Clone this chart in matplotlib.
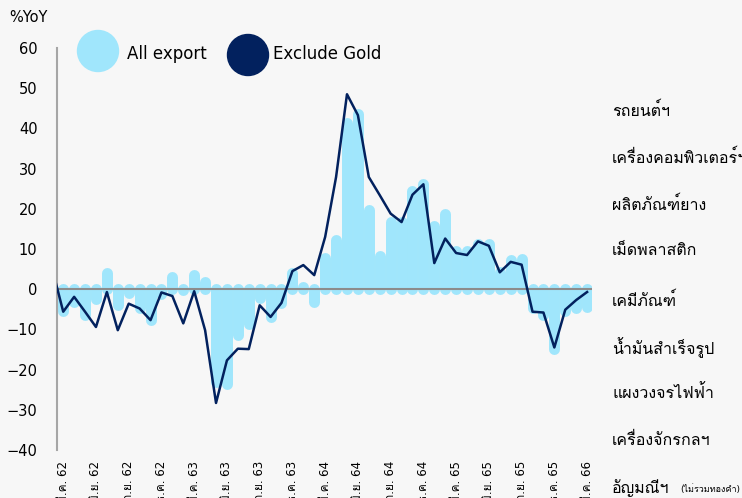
import numpy as np
import matplotlib
matplotlib.use("Agg")
import matplotlib.pyplot as plt
from matplotlib import font_manager
from matplotlib.ft2font import FT2Font
from matplotlib.patches import Ellipse

# monthly %YoY, Feb 2562 .. Mar 2566
all_export = [4.5, -5.5, -3.2, -6.5, -2.5, 4.0, -4.0, -1.0, -4.8, -7.7,
              -1.1, 3.1, -0.3, 3.5, 1.7, -23.0, -23.5, -11.5, -8.6, -2.3,
              -7.0, -3.5, 4.0, 0.5, -3.2, 7.7, 12.2, 41.3, 43.5, 19.7,
              8.3, 16.8, 16.8, 24.4, 26.1, 15.7, 18.8, 9.5, 9.5, 11.2,
              11.2, 4.3, 7.3, 7.5, -4.8, -6.5, -14.8, -5.3, -4.8, -4.4]
exclude_gold = [5.0, -5.6, -1.9, -5.6, -9.4, -0.7, -10.2, -3.6, -4.8, -7.7,
                -0.8, -1.7, -8.5, -0.5, -10.2, -28.3, -17.7, -14.8, -14.9, -4.0,
                -6.9, -3.4, 4.5, 6.0, 3.5, 13.0, 27.9, 48.5, 43.3, 27.9,
                23.4, 18.8, 16.7, 23.5, 26.1, 6.5, 12.6, 9.0, 8.5, 11.9,
                10.8, 4.2, 6.8, 6.1, -5.6, -5.8, -14.5, -5.1, -2.7, -0.7]
tick_idx = [1, 4, 7, 10, 13, 16, 19, 22, 25, 28, 31, 34, 37, 40, 43, 46, 49]
tick_labels = ["มี.ค. 62", "มิ.ย. 62", "ก.ย. 62", "ธ.ค. 62",
               "มี.ค. 63", "มิ.ย. 63", "ก.ย. 63", "ธ.ค. 63",
               "มี.ค. 64", "มิ.ย. 64", "ก.ย. 64", "ธ.ค. 64",
               "มี.ค. 65", "มิ.ย. 65", "ก.ย. 65", "ธ.ค. 65",
               "มี.ค. 66"]
side_labels = ["รถยนต์ฯ", "เครื่องคอมพิวเตอร์ฯ", "ผลิตภัณฑ์ยาง", "เม็ดพลาสติก",
               "เคมีภัณฑ์", "น้ำมันสำเร็จรูป", "แผงวงจรไฟฟ้า", "เครื่องจักรกลฯ",
               "อัญมณีฯ"]


def thai_family():
    # find any installed font that has Thai glyphs
    for f in font_manager.fontManager.ttflist:
        try:
            if ord("ก") in FT2Font(f.fname).get_charmap():
                return f.name
        except Exception:
            pass
    return None


th = thai_family()
fams = ["DejaVu Sans"] + ([th] if th else [])
plt.rcParams["font.family"] = fams

BLUE = "#a0e6fc"
NAVY = "#02215e"
BG = "#f7f7f7"

fig = plt.figure(figsize=(7.42, 4.98), dpi=100, facecolor=BG)
ax = fig.add_axes([57 / 742, 48 / 498, 535 / 742, 402 / 498], facecolor=BG)

x = np.arange(len(all_export))
ax.vlines(x, 0, all_export, colors=BLUE, linewidth=7.9, capstyle="round", zorder=1)
ax.axhline(0, color="#8c8c8c", linewidth=1.5, zorder=2)
ax.plot(x, exclude_gold, color=NAVY, linewidth=1.8, zorder=3)

ax.set_xlim(0.43, 49.45)
ax.set_ylim(-40, 60)
ax.set_yticks(np.arange(-40, 61, 10))
ax.set_xticks(tick_idx)
ax.set_xticklabels(tick_labels, rotation=90, fontsize=8.5)
ax.tick_params(axis="both", length=0, labelsize=10.5)
ax.tick_params(axis="x", pad=8, labelsize=8.5)
ax.tick_params(axis="y", pad=14)
for s in ["top", "right", "bottom"]:
    ax.spines[s].set_visible(False)
ax.spines["left"].set_color("#a6a6a6")
ax.spines["left"].set_linewidth(1.5)

fig.text(28 / 742, 1 - 18 / 498, "%YoY", fontsize=10.5, ha="center", va="center")

# legend with big dots
for cx, cy, col, tx, label in [(98, 51, BLUE, 127, "All export"),
                               (248, 55, NAVY, 273, "Exclude Gold")]:
    fig.add_artist(Ellipse((cx / 742, 1 - cy / 498), 41 / 742, 41 / 498,
                           transform=fig.transFigure, color=col))
    fig.text(tx / 742, 1 - 54 / 498, label, fontsize=12, ha="left", va="center")

ys = [110, 157, 204, 250, 300, 348, 393, 440, 488]
for lab, yy in zip(side_labels, ys):
    fig.text(612 / 742, 1 - yy / 498, lab, fontsize=11.5, ha="left", va="center")
fig.text(680 / 742, 1 - 489 / 498, "(ไม่รวมทองคำ)", fontsize=6.5, ha="left", va="center")

fig.savefig("out.png", dpi=100, facecolor=BG)
